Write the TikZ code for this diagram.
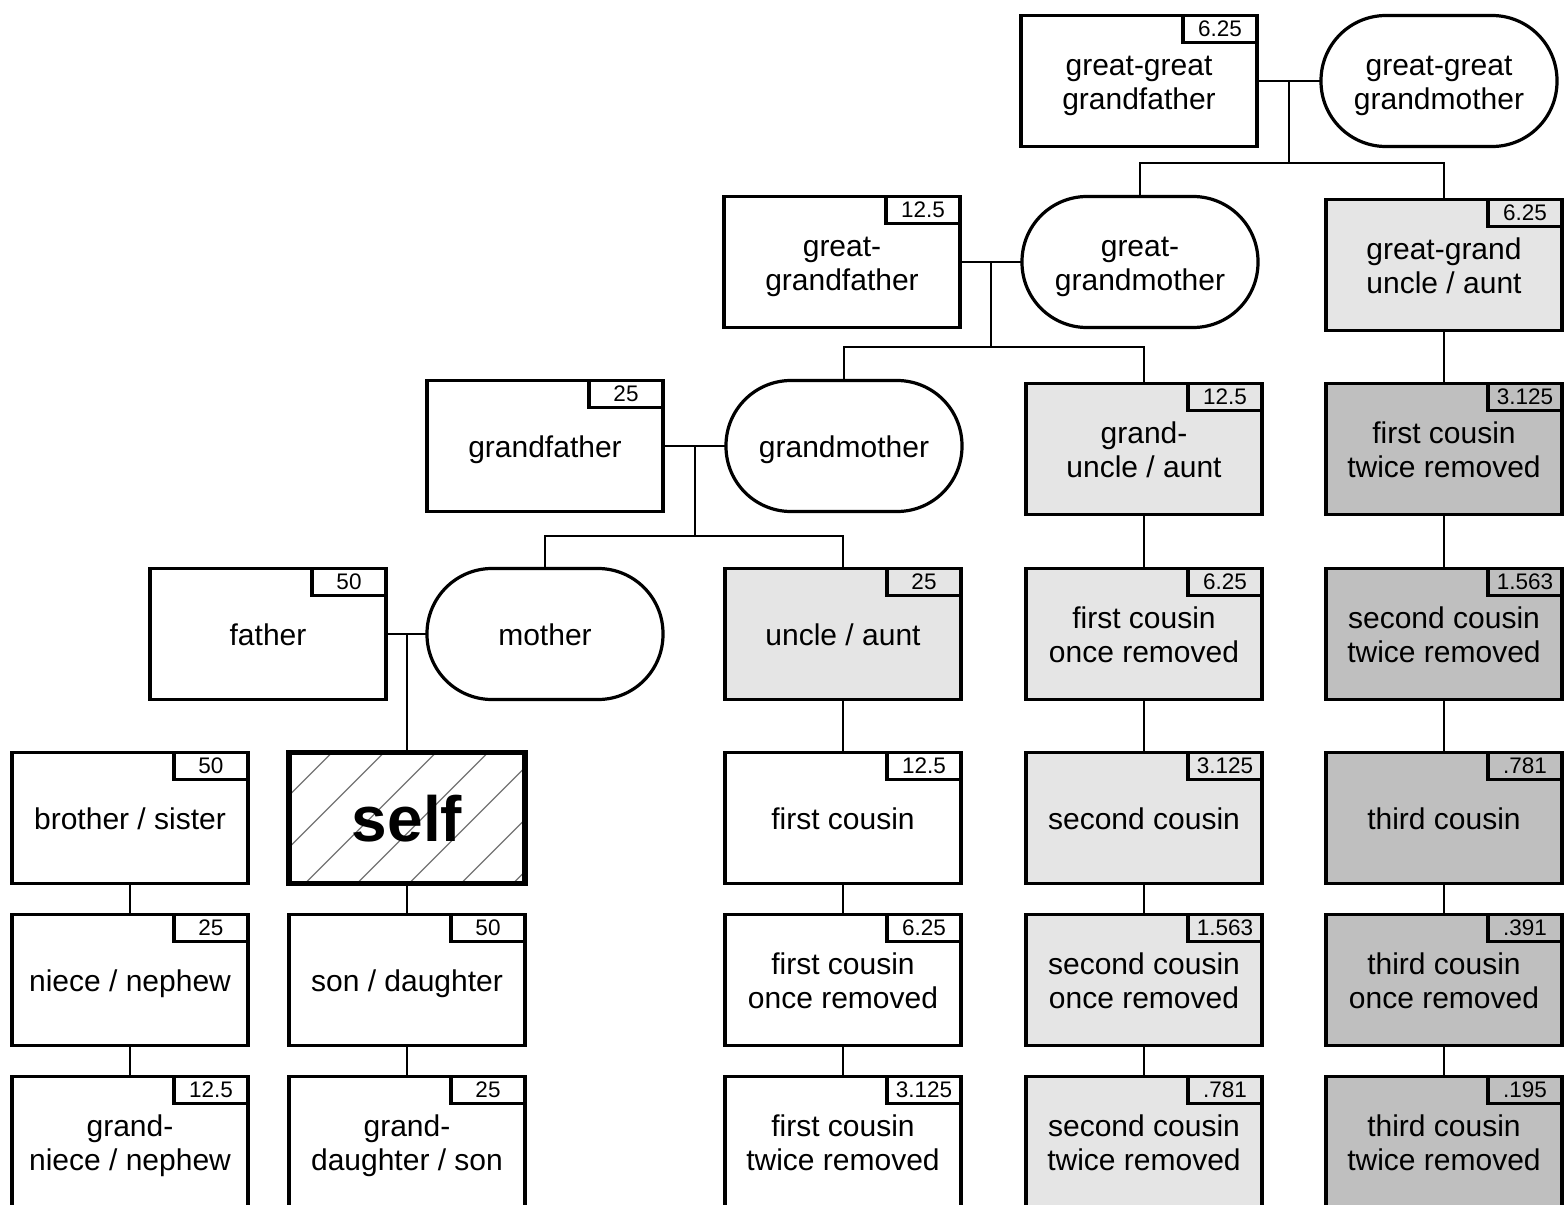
\documentclass[tikz,border=0pt]{standalone}
\usepackage{fontspec}
\setmainfont{Liberation Sans}
\usetikzlibrary{calc,backgrounds}

\definecolor{lightshade}{gray}{0.9}
\definecolor{darkshade}{gray}{0.75}
\definecolor{hatchgray}{gray}{0.45}

% labels get a fixed height and depth, so one- and two-line labels
% sit evenly about the box centre whatever letters they hold
\tikzset{
  person/.style={draw=black, line width=3.2pt, fill=white,
    minimum width=236pt, minimum height=131pt,
    inner sep=0pt, outer sep=0pt, align=center,
    text height=28pt, text depth=6pt,
    font=\fontsize{30}{34}\selectfont},
  two/.style={text height=62pt},
  male/.style={person},
  female/.style={person, rounded corners=65pt},
  light/.style={person, fill=lightshade},
  dark/.style={person, fill=darkshade},
  egobox/.style={person, fill=none, line width=5.5pt,
    text height=47pt, text depth=0pt,
    font=\fontsize{64}{70}\selectfont\bfseries},
  share/.style={draw=black, line width=3.2pt,
    minimum width=74pt, minimum height=27pt,
    inner sep=0pt, outer sep=0pt,
    align=center, anchor=north east,
    font=\fontsize{22.5}{24}\selectfont},
  link/.style={draw=black, line width=2pt},
  hatch/.style={draw=hatchgray, line width=1.3pt},
}

\begin{document}
\begin{tikzpicture}[x=1pt, y=-1pt]
\useasboundingbox (0,0) rectangle (1567,1205);

% ---- ancestors ----
\node[male,two]   (ggf) at (1139,81)  {great-great\\grandfather};
\node[female,two] (ggm) at (1439,81)  {great-great\\grandmother};

\node[male,two]   (gf2) at (842,262)  {great-\\grandfather};
\node[female,two] (gm2) at (1140,262) {great-\\grandmother};
\node[light,two]  (ggu) at (1444,265) {great-grand\\uncle / aunt};

\node[male]       (gf)  at (545,446)  {grandfather};
\node[female]     (gm)  at (844,446)  {grandmother};
\node[light,two]  (gu)  at (1144,449) {grand-\\uncle / aunt};
\node[dark,two]   (e2)  at (1444,449) {first cousin\\twice removed};

\node[male]       (father) at (268,634) {father};
\node[female]     (mother) at (545,634) {mother};
\node[light]      (uncle)  at (843,634) {uncle / aunt};
\node[light,two]  (d3)     at (1144,634) {first cousin\\once removed};
\node[dark,two]   (e3)     at (1444,634) {second cousin\\twice removed};

% ---- own generation and below ----
\node[male]   (sib)  at (130,818) {brother / sister};
\node[egobox] (self) at (407,818) {self};
\node[male]   (c4)   at (843,818) {first cousin};
\node[light]  (d4)   at (1144,818) {second cousin};
\node[dark]   (e4)   at (1444,818) {third cousin};

\node[male]      (nn)   at (130,980) {niece / nephew};
\node[male]      (son)  at (407,980) {son / daughter};
\node[male,two]  (c5)   at (843,980) {first cousin\\once removed};
\node[light,two] (d5)   at (1144,980) {second cousin\\once removed};
\node[dark,two]  (e5)   at (1444,980) {third cousin\\once removed};

\node[male,two]  (gnn)  at (130,1142) {grand-\\niece / nephew};
\node[male,two]  (gc)   at (407,1142) {grand-\\daughter / son};
\node[male,two]  (c6)   at (843,1142) {first cousin\\twice removed};
\node[light,two] (d6)   at (1144,1142) {second cousin\\twice removed};
\node[dark,two]  (e6)   at (1444,1142) {third cousin\\twice removed};

% ---- relatedness tags ----
\node[share] (tggf) at (ggf.north east) {6.25};
\node[share] (tgf2) at (gf2.north east) {12.5};
\node[share] (tggu) at (ggu.north east) {6.25};
\node[share] (tgf)  at (gf.north east)  {25};
\node[share] (tgu)  at (gu.north east)  {12.5};
\node[share] (te2)  at (e2.north east)  {3.125};
\node[share] (tfa)  at (father.north east) {50};
\node[share] (tun)  at (uncle.north east) {25};
\node[share] (td3)  at (d3.north east)  {6.25};
\node[share] (te3)  at (e3.north east)  {1.563};
\node[share] (tsib) at (sib.north east) {50};
\node[share] (tc4)  at (c4.north east)  {12.5};
\node[share] (td4)  at (d4.north east)  {3.125};
\node[share] (te4)  at (e4.north east)  {.781};
\node[share] (tnn)  at (nn.north east)  {25};
\node[share] (tson) at (son.north east) {50};
\node[share] (tc5)  at (c5.north east)  {6.25};
\node[share] (td5)  at (d5.north east)  {1.563};
\node[share] (te5)  at (e5.north east)  {.391};
\node[share] (tgnn) at (gnn.north east) {12.5};
\node[share] (tgc)  at (gc.north east)  {25};
\node[share] (tc6)  at (c6.north east)  {3.125};
\node[share] (td6)  at (d6.north east)  {.781};
\node[share] (te6)  at (e6.north east)  {.195};

% ---- couples and their children ----
\draw[link] (ggf.east) -- (ggm.west);
\coordinate (bar0) at ($(ggf.east)!.5!(ggm.west) + (0,82)$);
\draw[link] ($(ggf.east)!.5!(ggm.west)$) -- (bar0);
\draw[link] (gm2.north) |- (bar0) -| (ggu.north);

\draw[link] (gf2.east) -- (gm2.west);
\coordinate (bar1) at ($(gf2.east)!.5!(gm2.west) + (0,85)$);
\draw[link] ($(gf2.east)!.5!(gm2.west)$) -- (bar1);
\draw[link] (gm.north) |- (bar1) -| (gu.north);

\draw[link] (gf.east) -- (gm.west);
\coordinate (bar2) at ($(gf.east)!.5!(gm.west) + (0,90)$);
\draw[link] ($(gf.east)!.5!(gm.west)$) -- (bar2);
\draw[link] (mother.north) |- (bar2) -| (uncle.north);

\draw[link] (father.east) -- (mother.west);
\draw[link] (self.north) -- (self.north |- father.east);

% ---- lines of descent ----
\draw[link] (sib.south) -- (nn.north);
\draw[link] (nn.south) -- (gnn.north);
\draw[link] (self.south) -- (son.north);
\draw[link] (son.south) -- (gc.north);
\draw[link] (uncle.south) -- (c4.north);
\draw[link] (c4.south) -- (c5.north);
\draw[link] (c5.south) -- (c6.north);
\draw[link] (gu.south) -- (d3.north);
\draw[link] (d3.south) -- (d4.north);
\draw[link] (d4.south) -- (d5.north);
\draw[link] (d5.south) -- (d6.north);
\draw[link] (ggu.south) -- (e2.north);
\draw[link] (e2.south) -- (e3.north);
\draw[link] (e3.south) -- (e4.north);
\draw[link] (e4.south) -- (e5.north);
\draw[link] (e5.south) -- (e6.north);

% ---- page ground and hatching behind the self box ----
\begin{pgfonlayer}{background}
  \fill[white] (0,0) rectangle (1567,1205);
  \begin{scope}
    \clip (self.south west) rectangle (self.north east);
    \foreach \k in {0,...,6}
      \draw[hatch] ($(self.north west) + (43+52*\k,0)$) -- ++(-200,200);
  \end{scope}
\end{pgfonlayer}
\end{tikzpicture}
\end{document}
